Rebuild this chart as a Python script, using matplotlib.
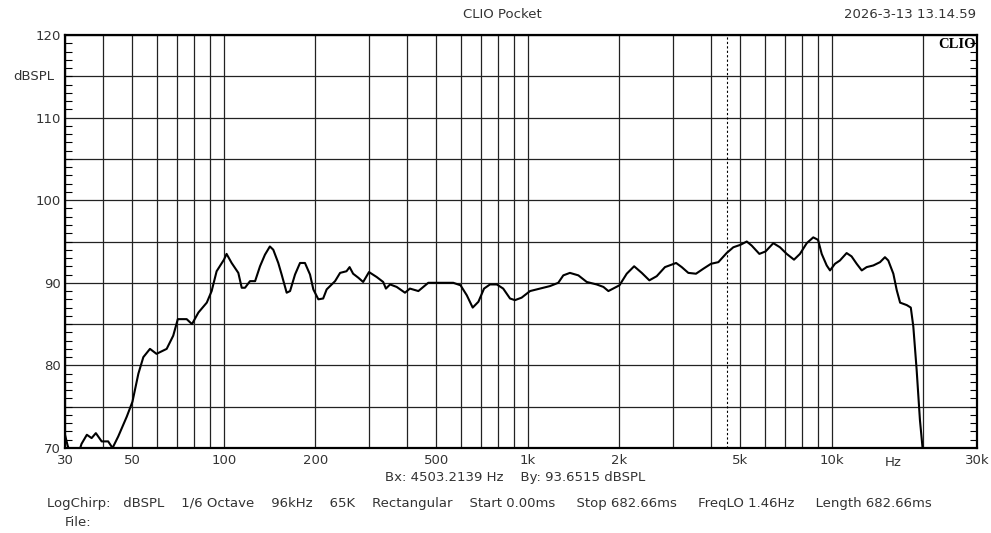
import matplotlib
matplotlib.use("Agg")
import matplotlib.pyplot as plt
from matplotlib.ticker import FixedLocator, LogLocator, MultipleLocator, NullFormatter

# frequency response
freq_hz = [30, 30.6, 31.5, 33.0, 34.0, 35.4, 36.7, 37.9, 39.6, 41.6, 43.0, 44.9, 47.9,
           50, 52.3, 54.3, 57.1, 60, 64.8, 68.1, 70.5, 75.4, 78.5, 82.4, 87.8, 91.1,
           94.6, 100, 102, 106, 111.5, 114.4, 117.3, 121.8, 126.6, 131.4, 136.4, 141.6,
           145.3, 150.9, 154.8, 160.8, 165, 171.3, 177.9, 184.7, 191.9, 196.8, 204.4,
           212, 217.7, 232, 241, 253, 259, 266, 277, 287, 300, 318, 334, 341, 352, 370,
           394, 409, 436, 470, 514, 568, 600, 629, 658, 687, 717, 750, 790, 829, 873,
           906, 953, 1016, 1095, 1181, 1258, 1307, 1374, 1465, 1561, 1683, 1771, 1839,
           2000, 2113, 2235, 2368, 2508, 2652, 2823, 3072, 3205, 3369, 3571, 3774, 4000,
           4230, 4503, 4737, 5000, 5245, 5446, 5770, 6050, 6414, 6746, 7098, 7502, 7848,
           8262, 8680, 9000, 9253, 9610, 9855, 10230, 10620, 11175, 11600, 12060, 12530,
           13008, 13680, 14394, 14940, 15320, 15920, 16335, 16755, 17625, 18170, 18520,
           18990, 19470, 19860, 20100]
spl_db = [71.6, 70.3, 69.0, 69.0, 70.5, 71.6, 71.2, 71.8, 70.8, 70.8, 70.0, 71.4, 73.8,
          75.6, 79.0, 81.0, 82.0, 81.4, 82.0, 83.6, 85.6, 85.6, 85.0, 86.4, 87.6, 89.0,
          91.4, 92.8, 93.5, 92.4, 91.2, 89.4, 89.4, 90.2, 90.2, 92.0, 93.4, 94.4,
          94.0, 92.4, 91.0, 88.8, 89.0, 91.0, 92.4, 92.4, 91.0, 89.2, 88.0,
          88.1, 89.2, 90.2, 91.2, 91.4, 91.9, 91.1, 90.6, 90.1, 91.3, 90.7, 90.1, 89.3, 89.8, 89.5,
          88.8, 89.3, 89.0, 90.0, 90.0, 90.0, 89.7, 88.5, 87.0, 87.7, 89.3, 89.8, 89.8, 89.3, 88.1,
          87.9, 88.2, 89.0, 89.3, 89.6, 90.0, 90.9, 91.2, 90.9, 90.1, 89.8, 89.5, 89.0,
          89.7, 91.1, 92.0, 91.2, 90.3, 90.8, 91.9, 92.4, 91.9, 91.2, 91.1, 91.7, 92.3,
          92.5, 93.6, 94.3, 94.6, 95.0, 94.5, 93.5, 93.8, 94.8, 94.3, 93.5, 92.8, 93.5,
          94.8, 95.5, 95.2, 93.5, 92.1, 91.5, 92.3, 92.7, 93.6, 93.2, 92.3, 91.5,
          91.9, 92.1, 92.5, 93.1, 92.7, 91.1, 89.1, 87.6, 87.3, 87.0, 84.7,
          79.5, 73.4, 70.0, 68.0]

x_tick_freqs = [30, 50, 100, 200, 500, 1000, 2000, 5000, 10000, 30000]
x_tick_labels = ["30", "50", "100", "200", "500", "1k", "2k", "5k", "10k", "30k"]
y_tick_vals = [70, 80, 90, 100, 110, 120]
cursor_hz = 4503.2139
cursor_db = 93.6515

plt.rcParams['font.family'] = ['DejaVu Sans']
fs = 9.5
txt_col = '#333333'

fig = plt.figure(figsize=(9.91, 5.33), dpi=100)
ax = fig.add_axes([65 / 991, 1 - 448 / 533, 912 / 991, 413 / 533])

ax.set_xscale('log')
ax.set_xlim(30, 30000)
ax.set_ylim(70, 120)

# vertical grid at every decade subdivision
ax.xaxis.set_major_locator(FixedLocator(x_tick_freqs))
ax.xaxis.set_major_formatter(plt.FixedFormatter(x_tick_labels))
ax.xaxis.set_minor_locator(LogLocator(base=10, subs=range(1, 10), numticks=20))
ax.xaxis.set_minor_formatter(NullFormatter())
ax.grid(True, which='both', axis='x', color='#222222', linewidth=0.9)
ax.tick_params(axis='x', which='both', length=0, labelsize=fs, pad=4, labelcolor=txt_col)

# horizontal grid every 5 dB, small ticks every dB
for lvl in range(70, 121, 5):
    ax.axhline(lvl, color='#222222', linewidth=0.9, zorder=1)
ax.yaxis.set_major_locator(FixedLocator(y_tick_vals))
ax.yaxis.set_minor_locator(MultipleLocator(1))
ax.tick_params(axis='y', which='both', direction='in', left=True, right=True,
               length=5, width=0.8, labelsize=fs, pad=3, labelcolor=txt_col)
ax.tick_params(axis='y', which='major', length=0)

ax.axvline(cursor_hz, color='black', linewidth=0.8, linestyle=(0, (2, 2)), zorder=2)
ax.plot(freq_hz, spl_db, color='black', linewidth=1.5, zorder=3, clip_on=True)

for s in ax.spines.values():
    s.set_linewidth(1.6)

ax.text(0.908, -0.0185, "Hz", transform=ax.transAxes, ha='center', va='top',
        fontsize=fs, color=txt_col)
ax.text(34 / 991, 1 - 76 / 533, "dBSPL", transform=fig.transFigure, ha='center', va='center',
        fontsize=fs, color=txt_col)
ax.text(0.999, 0.992, "CLIO", transform=ax.transAxes, ha='right', va='top', fontsize=10.5,
        family=['Liberation Serif', 'DejaVu Serif'], fontweight='bold')

fig.text(502 / 991, 1 - 15 / 533, "CLIO Pocket", ha='center', va='center', fontsize=fs,
         color=txt_col)
fig.text(976 / 991, 1 - 15 / 533, "2026-3-13 13.14.59", ha='right', va='center', fontsize=fs,
         color=txt_col)
fig.text(515 / 991, 1 - 478 / 533, f"Bx: {cursor_hz:.4f} Hz    By: {cursor_db:.4f} dBSPL",
         ha='center', va='center', fontsize=fs, color=txt_col)
fig.text(47 / 991, 1 - 504 / 533,
         "LogChirp:   dBSPL    1/6 Octave    96kHz    65K    Rectangular    Start 0.00ms     "
         "Stop 682.66ms     FreqLO 1.46Hz     Length 682.66ms",
         ha='left', va='center', fontsize=fs, color=txt_col)
fig.text(65 / 991, 1 - 522 / 533, "File:", ha='left', va='center', fontsize=fs, color=txt_col)

fig.savefig("out.png", dpi=100, facecolor='white')
